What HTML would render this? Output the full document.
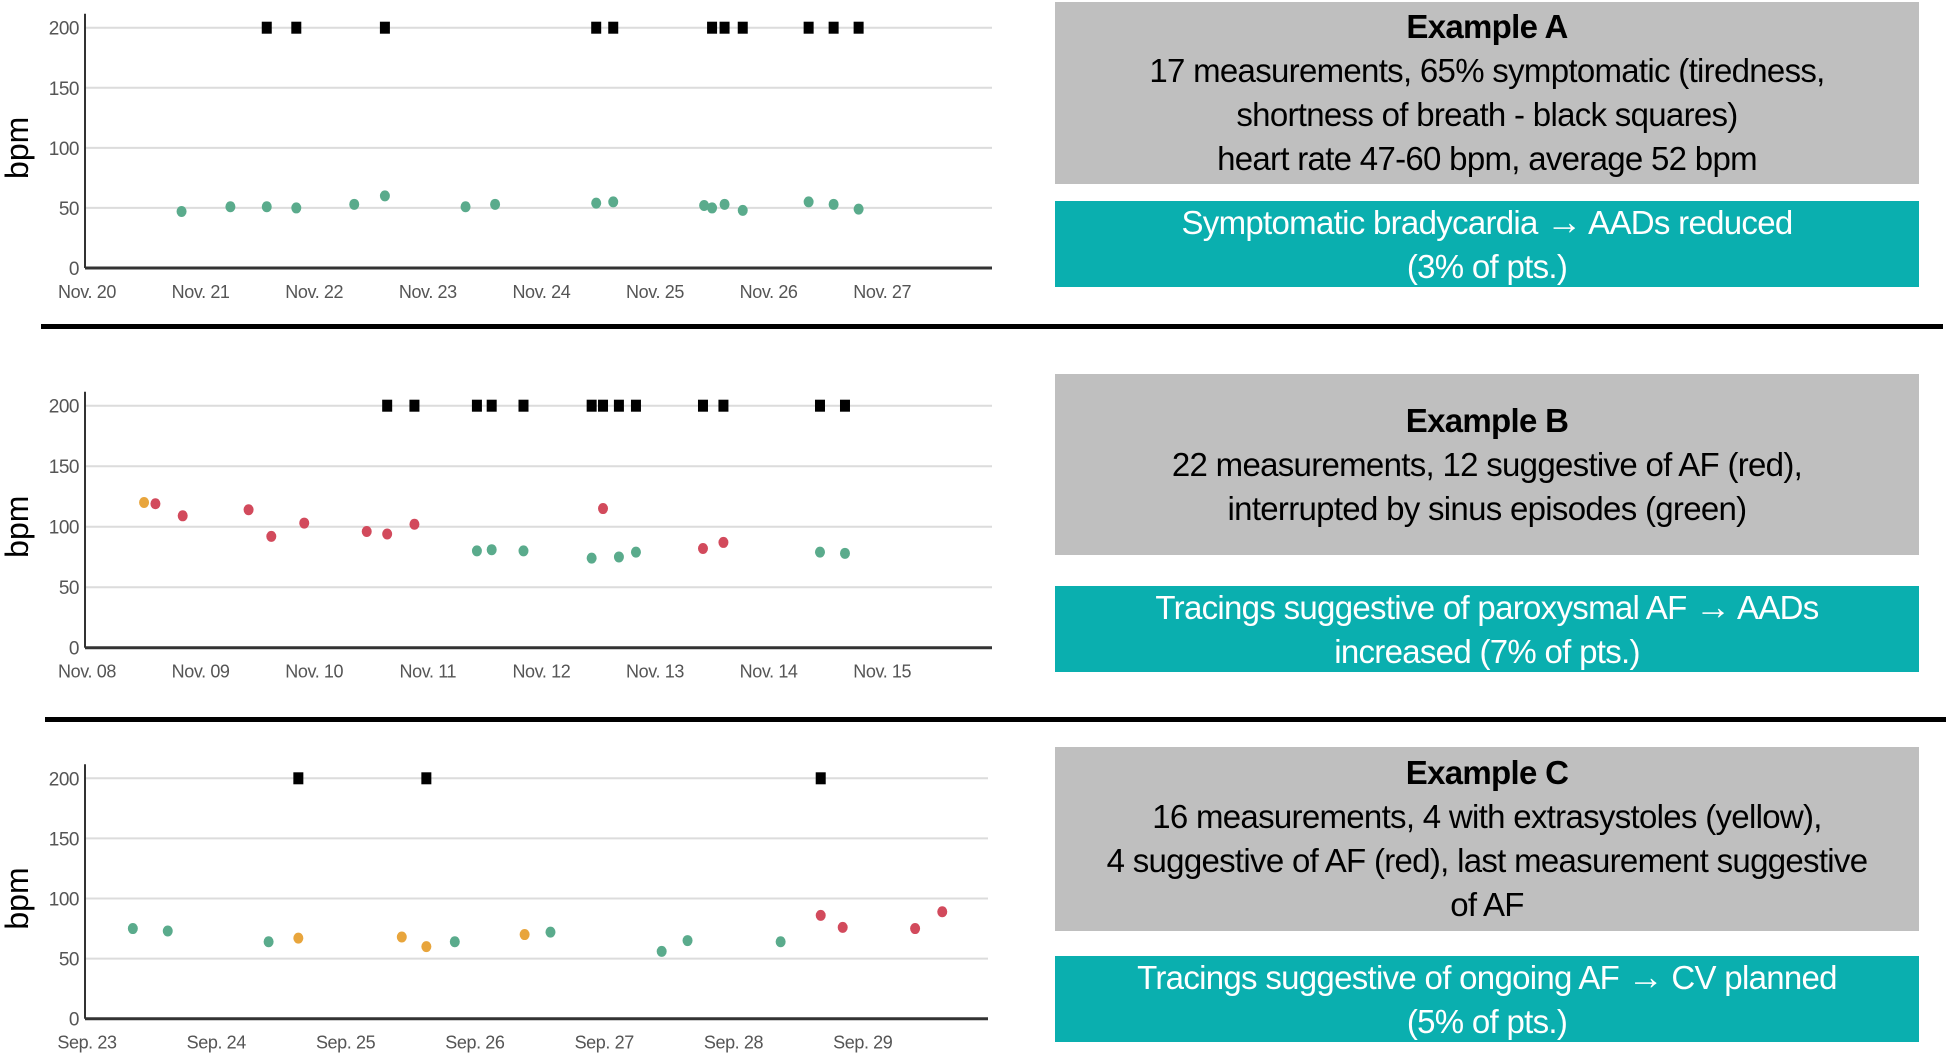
<!DOCTYPE html>
<html><head><meta charset="utf-8">
<style>
html,body{margin:0;padding:0;background:#fff;}
body{width:1950px;height:1053px;position:relative;overflow:hidden;font-family:"Liberation Sans",sans-serif;}
.box{position:absolute;left:1055px;width:864px;display:flex;flex-direction:column;justify-content:center;align-items:center;text-align:center;font-size:33px;line-height:44px;letter-spacing:-0.7px;}
.gray{background:#bfbfbf;color:#000;}
.teal{background:#0aafaf;color:#fff;}
.arr{font-weight:bold;font-size:36px;}
.sep{position:absolute;height:5px;background:#000;}
svg{position:absolute;left:0;top:0;}
</style></head>
<body>
<svg id="chart" width="1950" height="1053" xmlns="http://www.w3.org/2000/svg"></svg>

<div class="sep" style="left:41px;width:1902px;top:324px;"></div>
<div class="sep" style="left:45px;width:1901px;top:717px;"></div>

<div class="box gray" style="top:2px;height:182px;">
<b>Example A</b>17 measurements, 65% symptomatic (tiredness,<br>shortness of breath - black squares)<br>heart rate 47-60 bpm, average 52 bpm</div>
<div class="box teal" style="top:201px;height:86px;"><span>Symptomatic bradycardia <span class="arr">→</span> AADs reduced</span>(3% of pts.)</div>

<div class="box gray" style="top:374px;height:181px;">
<b>Example B</b>22 measurements, 12 suggestive of AF (red),<br>interrupted by sinus episodes (green)</div>
<div class="box teal" style="top:586px;height:86px;"><span>Tracings suggestive of paroxysmal AF <span class="arr">→</span> AADs</span>increased (7% of pts.)</div>

<div class="box gray" style="top:747px;height:184px;">
<b>Example C</b>16 measurements, 4 with extrasystoles (yellow),<br>4 suggestive of AF (red), last measurement suggestive<br>of AF</div>
<div class="box teal" style="top:956px;height:86px;"><span>Tracings suggestive of ongoing AF <span class="arr">→</span> CV planned</span>(5% of pts.)</div>

<script>
// Chart A data
const aLabels = ["Nov. 20","Nov. 21","Nov. 22","Nov. 23","Nov. 24","Nov. 25","Nov. 26","Nov. 27"];
const aDays = [0.85,1.28,1.60,1.86,2.37,2.64,3.35,3.61,4.50,4.65,5.45,5.52,5.63,5.79,6.37,6.59,6.81];
const aBpm = [47,51,51,50,53,60,51,53,54,55,52,50,53,48,55,53,49];
const aType = ["g","g","g","g","g","g","g","g","g","g","g","g","g","g","g","g","g"];
const aSymptom = [1.60,1.86,2.64,4.50,4.65,5.52,5.63,5.79,6.37,6.59,6.81];
// Chart B data
const bLabels = ["Nov. 08","Nov. 09","Nov. 10","Nov. 11","Nov. 12","Nov. 13","Nov. 14","Nov. 15"];
const bDays = [0.52,0.62,0.86,1.44,1.64,1.93,2.48,2.66,2.90,3.45,3.58,3.86,4.46,4.56,4.70,4.85,5.44,5.62,6.47,6.69];
const bBpm = [120,119,109,114,92,103,96,94,102,80,81,80,74,115,75,79,82,87,79,78];
const bType = ["o","r","r","r","r","r","r","r","r","g","g","g","g","r","g","g","r","r","g","g"];
const bSymptom = [2.66,2.90,3.45,3.58,3.86,4.46,4.56,4.70,4.85,5.44,5.62,6.47,6.69];
// Chart C data
const cLabels = ["Sep. 23","Sep. 24","Sep. 25","Sep. 26","Sep. 27","Sep. 28","Sep. 29"];
const cDays = [0.37,0.64,1.42,1.65,2.45,2.64,2.86,3.40,3.60,4.46,4.66,5.38,5.69,5.86,6.42,6.63];
const cBpm = [75,73,64,67,68,60,64,70,72,56,65,64,86,76,75,89];
const cType = ["g","g","g","o","o","o","g","o","g","g","g","g","r","r","r","r"];
const cSymptom = [1.65,2.64,5.69];
const yTicks = [0,50,100,150,200];

const NS = "http://www.w3.org/2000/svg";
const svg = document.getElementById("chart");
const colors = {g:"#5aab8c", r:"#d24a5c", o:"#e8a53c"};
function mk(tag, attrs, parent){
  const e = document.createElementNS(NS, tag);
  for (const k in attrs) e.setAttribute(k, attrs[k]);
  (parent||svg).appendChild(e);
  return e;
}
function drawChart(id, cfg, labels, days, bpm, types, symptom){
  const g = mk("g", {});
  
  
  const xs = d => cfg.x0 + d*cfg.dayW;
  const ys = v => cfg.yZero - (cfg.yZero - cfg.y200)*v/200;
  yTicks.forEach(t => {
    if (t > 0) {
      const gl = mk("line", {x1:cfg.x0, x2:cfg.xEnd, y1:ys(t), y2:ys(t), stroke:"#dcdcdc", "stroke-width":2}, g);
      
      
    }
    const tl = mk("text", {x:cfg.x0-6, y:ys(t)+7, "text-anchor":"end", "font-size":19, fill:"#555", "font-family":"Liberation Sans, sans-serif", "letter-spacing":"-0.5"}, g);
    tl.textContent = t;
    
    
  });
  const ya = mk("line", {x1:cfg.x0, x2:cfg.x0, y1:cfg.y200-14, y2:cfg.yZero, stroke:"#333", "stroke-width":2}, g);
  
  
  const xa = mk("line", {x1:cfg.x0, x2:cfg.xEnd, y1:cfg.yZero, y2:cfg.yZero, stroke:"#333", "stroke-width":3}, g);
  
  
  labels.forEach((l,i) => {
    const t = mk("text", {x:xs(i)+2, y:cfg.yZero+30, "text-anchor":"middle", "font-size":18, fill:"#555", "font-family":"Liberation Sans, sans-serif", "letter-spacing":"-0.4"}, g);
    t.textContent = l;
    
    
  });
  const yt = mk("text", {x:0, y:0, "text-anchor":"middle", "font-size":32, fill:"#000", "font-family":"Liberation Sans, sans-serif", transform:`translate(28,${(cfg.y200+cfg.yZero)/2}) rotate(-90)`}, g);
  yt.textContent = "bpm";
  
  
  symptom.forEach(d => {
    const s = mk("rect", {x:xs(d)-5, y:ys(200)-6, width:10, height:12, fill:"#000"}, g);
    
    
  });
  days.forEach((d,i) => {
    const c = mk("ellipse", {cx:xs(d), cy:ys(bpm[i]), rx:5, ry:5.5, fill:colors[types[i]]}, g);
    
    
  });
}
drawChart("chart-example-a", {x0:85, xEnd:992, dayW:113.6, y200:27.7, yZero:268}, aLabels, aDays, aBpm, aType, aSymptom);
drawChart("chart-example-b", {x0:85, xEnd:992, dayW:113.6, y200:405.7, yZero:647.7}, bLabels, bDays, bBpm, bType, bSymptom);
drawChart("chart-example-c", {x0:85, xEnd:988, dayW:129.3, y200:778.3, yZero:1018.7}, cLabels, cDays, cBpm, cType, cSymptom);
</script>
</body></html>
